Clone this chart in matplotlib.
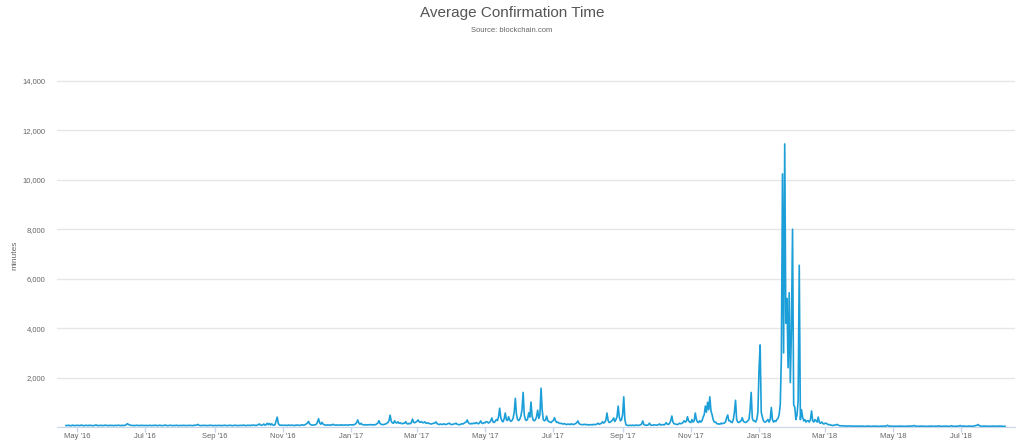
import matplotlib
matplotlib.use("Agg")
import matplotlib.pyplot as plt
import matplotlib.dates as mdates
from matplotlib.ticker import FuncFormatter
import pandas as pd

plt.rcParams['font.family'] = ['Liberation Sans', 'DejaVu Sans']

# daily average confirmation time (minutes), one list per month
apr16 = [60, 55, 70, 65, 50, 60, 75, 55, 60, 65]  # starts Apr 21
may16 = [60, 70, 55, 65, 80, 60, 50, 65, 70, 60, 55, 75, 60, 65, 50, 60, 70, 85, 60, 55,
         65, 60, 70, 55, 60, 75, 65, 60, 55, 70, 60]
jun16 = [65, 60, 55, 70, 60, 65, 75, 60, 55, 70, 60, 65, 70, 95, 135, 100, 80, 70, 60, 65,
         55, 60, 70, 65, 60, 55, 70, 60, 65, 60]
jul16 = [60, 65, 55, 60, 70, 60, 55, 65, 60, 75, 60, 55, 65, 70, 60, 55, 60, 65, 80, 60,
         55, 60, 70, 65, 60, 55, 65, 60, 70, 60, 55]
aug16 = [60, 65, 55, 70, 60, 65, 55, 60, 70, 60, 65, 55, 60, 75, 65, 80, 105, 70, 60, 55,
         65, 60, 70, 60, 55, 65, 60, 70, 65, 60, 55]
sep16 = [60, 65, 55, 60, 70, 60, 55, 65, 60, 70, 65, 55, 60, 65, 70, 60, 55, 60, 75, 60,
         65, 55, 60, 70, 60, 65, 80, 60, 55, 70]
oct16 = [65, 70, 60, 75, 65, 80, 70, 60, 75, 90, 125, 80, 70, 85, 120, 75, 90, 150, 95, 145,
         80, 130, 85, 70, 90, 240, 400, 140, 80, 70, 75]
nov16 = [70, 65, 75, 70, 60, 80, 70, 65, 75, 70, 60, 65, 80, 70, 75, 65, 70, 90, 80, 75,
         100, 120, 160, 225, 130, 90, 80, 75, 85, 90]
dec16 = [110, 200, 335, 160, 110, 190, 120, 90, 80, 75, 85, 80, 70, 90, 80, 110, 80, 75, 85, 70,
         80, 75, 90, 70, 80, 75, 85, 80, 70, 85, 90]
jan17 = [85, 90, 80, 100, 120, 180, 285, 160, 110, 150, 100, 90, 85, 95, 80, 90, 85, 100, 90, 80,
         95, 85, 100, 120, 160, 255, 140, 110, 100, 95, 110]
feb17 = [120, 150, 180, 260, 480, 230, 170, 150, 250, 180, 160, 210, 150, 170, 140, 130, 160, 150,
         215, 140, 120, 150, 130, 180, 320, 190, 170, 200]
mar17 = [230, 285, 210, 190, 220, 180, 170, 210, 160, 150, 170, 140, 130, 120, 140, 150, 160, 205,
         140, 110, 100, 120, 110, 100, 130, 110, 100, 120, 140, 155, 110]
apr17 = [100, 110, 120, 130, 155, 110, 100, 90, 110, 130, 120, 150, 180, 200, 285, 170, 140, 120,
         150, 130, 160, 140, 180, 150, 130, 170, 245, 160, 140, 180]
may17 = [170, 220, 200, 160, 190, 250, 365, 210, 180, 230, 300, 260, 420, 760, 380, 250, 210, 330,
         565, 300, 260, 415, 280, 230, 260, 350, 600, 1160, 520, 300, 260]
jun17 = [320, 450, 700, 1400, 500, 300, 260, 330, 570, 400, 1010, 450, 280, 250, 300, 420, 680, 350,
         500, 1570, 700, 300, 250, 280, 440, 260, 220, 200, 180, 230]
jul17 = [260, 375, 250, 180, 200, 160, 140, 150, 130, 120, 140, 110, 100, 120, 110, 100, 130, 110,
         100, 120, 140, 180, 245, 140, 110, 100, 90, 100, 110, 90, 100]
aug17 = [90, 80, 100, 90, 85, 110, 95, 100, 120, 155, 110, 130, 150, 210, 160, 190, 280, 565,
         260, 180, 200, 240, 280, 365, 220, 300, 420, 845, 400, 250, 300]
sep17 = [500, 1220, 300, 90, 70, 60, 65, 70, 60, 75, 65, 60, 80, 70, 65, 75, 90, 120, 245, 100,
         80, 70, 75, 90, 155, 80, 70, 75, 90, 80]
oct17 = [75, 80, 90, 125, 80, 90, 100, 85, 110, 175, 120, 100, 150, 250, 445, 200, 130, 120, 110,
         100, 120, 155, 130, 150, 180, 255, 200, 230, 415, 250, 200]
nov17 = [180, 300, 200, 250, 565, 300, 200, 180, 255, 200, 250, 400, 500, 845, 600, 1000, 700,
         1220, 650, 500, 300, 200, 205, 150, 120, 130, 110, 155, 130, 150]
dec17 = [160, 200, 370, 485, 250, 255, 200, 180, 300, 600, 1080, 300, 200, 180, 220, 250, 375, 230,
         200, 180, 205, 250, 300, 700, 1400, 350, 250, 255, 200, 300, 600]
jan18 = [2300, 3320, 600, 400, 250, 200, 205, 250, 305, 200, 300, 790, 300, 200, 255, 220, 305, 350,
         500, 900, 2820, 10240, 3000, 11450, 4200, 5200, 2400, 5430, 1800, 3900, 8000]
feb18 = [900, 800, 300, 500, 1050, 6540, 300, 700, 400, 250, 300, 200, 250, 255, 200, 300, 650, 250,
         200, 300, 250, 200, 400, 180, 150, 205, 150, 120]
mar18 = [150, 155, 120, 90, 100, 80, 70, 60, 70, 80, 90, 105, 70, 55, 50, 45, 50, 40, 45, 40,
         35, 40, 45, 40, 35, 30, 40, 35, 30, 35, 40]
apr18 = [35, 30, 40, 35, 30, 25, 35, 40, 30, 35, 30, 25, 35, 30, 40, 35, 30, 25, 30, 35,
         30, 40, 35, 30, 45, 70, 40, 30, 35, 30]
may18 = [30, 35, 30, 25, 35, 30, 40, 30, 35, 30, 25, 30, 35, 30, 40, 35, 30, 45, 40, 60,
         35, 30, 25, 35, 30, 40, 30, 35, 30, 25, 30]
jun18 = [30, 35, 30, 40, 35, 30, 25, 35, 30, 40, 45, 35, 30, 25, 35, 30, 40, 35, 30, 25,
         35, 50, 35, 30, 25, 35, 30, 35, 40, 60]
jul18 = [35, 30, 40, 35, 30, 25, 35, 40, 30, 35, 30, 40, 45, 60, 70, 100, 55, 40, 35, 30,
         35, 40, 30, 35, 30, 25, 35, 30, 40, 35, 30]
aug18 = [35, 30, 40, 35, 30, 35, 30, 25, 30]

months = [("2016-04-21", apr16), ("2016-05-01", may16), ("2016-06-01", jun16),
          ("2016-07-01", jul16), ("2016-08-01", aug16), ("2016-09-01", sep16),
          ("2016-10-01", oct16), ("2016-11-01", nov16), ("2016-12-01", dec16),
          ("2017-01-01", jan17), ("2017-02-01", feb17), ("2017-03-01", mar17),
          ("2017-04-01", apr17), ("2017-05-01", may17), ("2017-06-01", jun17),
          ("2017-07-01", jul17), ("2017-08-01", aug17), ("2017-09-01", sep17),
          ("2017-10-01", oct17), ("2017-11-01", nov17), ("2017-12-01", dec17),
          ("2018-01-01", jan18), ("2018-02-01", feb18), ("2018-03-01", mar18),
          ("2018-04-01", apr18), ("2018-05-01", may18), ("2018-06-01", jun18),
          ("2018-07-01", jul18), ("2018-08-01", aug18)]

dates = []
values = []
for start, vals in months:
    dates.extend(pd.date_range(start, periods=len(vals), freq="D"))
    values.extend(vals)

fig = plt.figure(figsize=(10.24, 4.42), dpi=100)
top_val = 14100
ax = fig.add_axes([57/1024, 15/442, (1015-57)/1024, (top_val/1000*24.72)/442])

ax.plot(dates, values, color="#1c9fd8", lw=1.2, zorder=3)

ax.set_ylim(0, top_val)
ax.set_xlim(pd.Timestamp("2016-04-13"), pd.Timestamp("2018-08-18"))
ax.set_yticks(range(0, 14001, 2000))
ax.yaxis.set_major_formatter(FuncFormatter(lambda v, p: "" if v == 0 else f"{int(v):,}"))
ax.yaxis.grid(True, color="#e6e6e6", lw=1)
ax.set_axisbelow(True)
ax.tick_params(axis="y", length=0, pad=8.5, labelsize=5.5, labelcolor="#666666")

ax.xaxis.set_major_locator(mdates.MonthLocator(bymonth=[1, 3, 5, 7, 9, 11]))
ax.xaxis.set_major_formatter(mdates.DateFormatter("%b '%y"))
ax.tick_params(axis="x", length=3.5, width=1, color="#ccd6eb", labelsize=5.5,
               labelcolor="#666666", pad=0.8)

for s in ["top", "right", "left"]:
    ax.spines[s].set_visible(False)
ax.spines["bottom"].set_color("#ccd6eb")

fig.text(0.5, 1 - 13/442, "Average Confirmation Time", ha="center", va="center",
         fontsize=11, color="#555555")
fig.text(0.5, 1 - 30/442, "Source: blockchain.com", ha="center", va="center",
         fontsize=5.5, color="#666666")
fig.text(15/1024, 1 - 255/442, "minutes", rotation=90, ha="center", va="center",
         fontsize=6, color="#666666")

fig.savefig("out.png", dpi=100)
